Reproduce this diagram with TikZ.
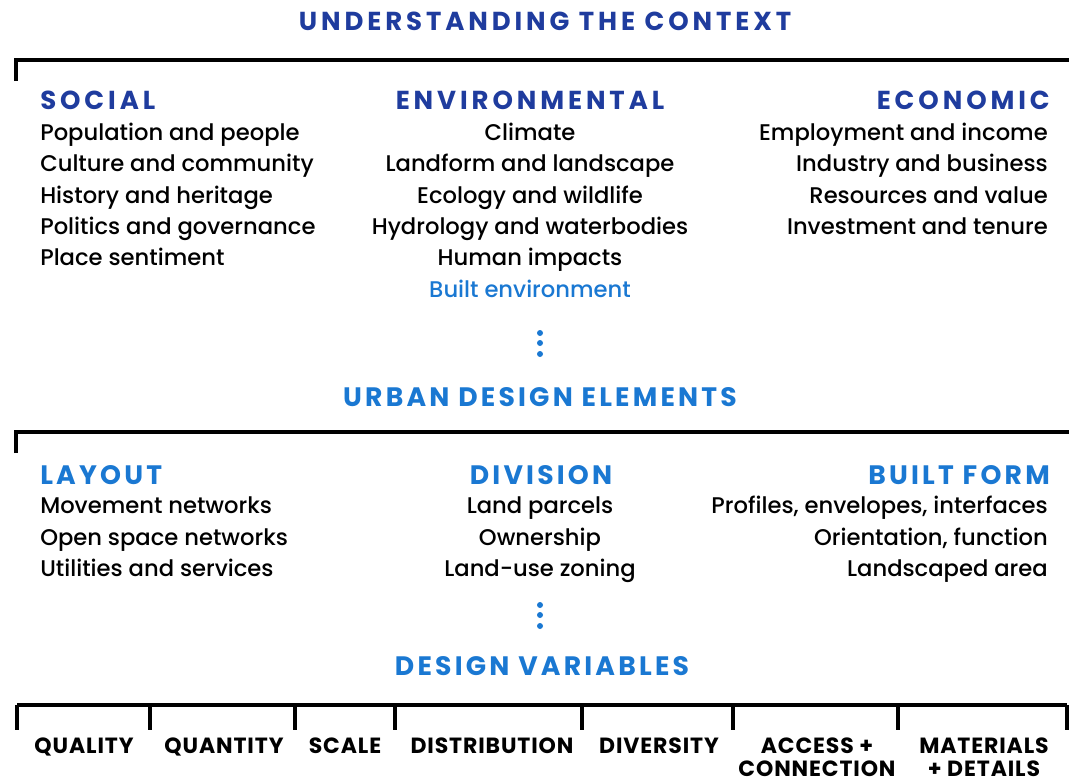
\documentclass[tikz,border=0pt]{standalone}
\usepackage{fontspec}
\setmainfont{Poppins}[UprightFont=* Medium, BoldFont=* Bold]
\newfontfamily\headcond{Poppins}[UprightFont=* Bold, LetterSpace=15]
\newfontfamily\headwide{Poppins}[UprightFont=* Bold, LetterSpace=12]
\newfontfamily\varfont{Poppins}[UprightFont=* Bold, LetterSpace=4]
\definecolor{dkblue}{HTML}{1F3C9E}
\definecolor{ltblue}{HTML}{1A78D2}
\begin{document}
\begin{tikzpicture}[x=0.75pt,y=-0.75pt,
  body/.style={inner sep=0pt,font=\fontsize{17}{20}\selectfont,text=black},
  bodyblue/.style={body,text=ltblue},
  cathead/.style={inner sep=0pt,font=\headcond\fontsize{19.5}{24}\selectfont,text=dkblue},
  cathead2/.style={inner sep=0pt,font=\headwide\fontsize{20}{24}\selectfont,text=ltblue},
  title1/.style={inner sep=0pt,font=\headcond\fontsize{19.5}{24}\selectfont,text=dkblue},
  title2/.style={inner sep=0pt,font=\headwide\fontsize{20}{24}\selectfont,text=ltblue},
  varlab/.style={inner sep=0pt,font=\varfont\fontsize{16.5}{19}\selectfont,text=black,align=center},
  bracket/.style={line width=3pt,draw=black},
  dotm/.style={circle,fill=ltblue,inner sep=0pt,minimum size=4.5pt}]
\useasboundingbox (0,0) rectangle (1069,782);
% titles
\node[title1,anchor=base] (t1) at (545,30) {UNDERSTANDING THE CONTEXT};
% top bracket
\coordinate (b1s) at (16,81);
\coordinate (b1c) at (16,60);
\coordinate (b1e) at (1069,60);
\draw[bracket] (b1s) -- (b1c) -- (b1e);
% category heads
\node[cathead,anchor=base west] (soc) at (40,109) {SOCIAL};
\node[cathead,anchor=base] (env) at (530,109) {ENVIRONMENTAL};
\node[cathead,anchor=base east] (eco) at (1050,109) {ECONOMIC};
% social
\node[body,anchor=base west] (s1) at (40,140) {Population and people};
\node[body,anchor=base west] (s2) at (40,171) {Culture and community};
\node[body,anchor=base west] (s3) at (40,203) {History and heritage};
\node[body,anchor=base west] (s4) at (40,234) {Politics and governance};
\node[body,anchor=base west] (s5) at (40,265) {Place sentiment};
% environmental
\node[body,anchor=base] (e1) at (530,140) {Climate};
\node[body,anchor=base] (e2) at (530,171) {Landform and landscape};
\node[body,anchor=base] (e3) at (530,203) {Ecology and wildlife};
\node[body,anchor=base] (e4) at (530,234) {Hydrology and waterbodies};
\node[body,anchor=base] (e5) at (530,265) {Human impacts};
\node[bodyblue,anchor=base] (e6) at (530,297) {Built environment};
% economic
\node[body,anchor=base east] (c1) at (1048,140) {Employment and income};
\node[body,anchor=base east] (c2) at (1048,171) {Industry and business};
\node[body,anchor=base east] (c3) at (1048,203) {Resources and value};
\node[body,anchor=base east] (c4) at (1048,234) {Investment and tenure};
% dots
\node[dotm] (d1) at (540,333) {};
\node[dotm] (d2) at (540,343) {};
\node[dotm] (d3) at (540,354) {};
% urban design elements
\node[title2,anchor=base] (t2) at (540,406) {URBAN DESIGN ELEMENTS};
\coordinate (b2s) at (16,453);
\coordinate (b2c) at (16,432);
\coordinate (b2e) at (1069,432);
\draw[bracket] (b2s) -- (b2c) -- (b2e);
\node[cathead2,anchor=base west] (lay) at (40,484) {LAYOUT};
\node[cathead2,anchor=base] (div) at (541,484) {DIVISION};
\node[cathead2,anchor=base east] (bf) at (1050,484) {BUILT FORM};
\node[body,anchor=base west] (l1) at (40,513) {Movement networks};
\node[body,anchor=base west] (l2) at (40,545) {Open space networks};
\node[body,anchor=base west] (l3) at (40,576) {Utilities and services};
\node[body,anchor=base] (v1) at (540,513) {Land parcels};
\node[body,anchor=base] (v2) at (540,545) {Ownership};
\node[body,anchor=base] (v3) at (540,576) {Land-use zoning};
\node[body,anchor=base east] (f1) at (1048,513) {Profiles, envelopes, interfaces};
\node[body,anchor=base east] (f2) at (1048,545) {Orientation, function};
\node[body,anchor=base east] (f3) at (1048,576) {Landscaped area};
% dots 2
\node[dotm] (g1) at (540,605) {};
\node[dotm] (g2) at (540,615) {};
\node[dotm] (g3) at (540,626) {};
% design variables
\node[title2,anchor=base] (t3) at (542,675) {DESIGN VARIABLES};
% bottom bracket
\coordinate (k0) at (17,705);
\coordinate (k7) at (1067,705);
\draw[bracket] (k0) -- (k7);
\foreach \x [count=\i] in {17,150,295,395,582,733,898,1067}
  \draw[bracket] (\x,705) -- (\x,730);
\node[varlab,anchor=base] (q1) at (84,753) {QUALITY};
\node[varlab,anchor=base] (q2) at (224,753) {QUANTITY};
\node[varlab,anchor=base] (q3) at (345,753) {SCALE};
\node[varlab,anchor=base] (q4) at (492,753) {DISTRIBUTION};
\node[varlab,anchor=base] (q5) at (659,753) {DIVERSITY};
\node[varlab,anchor=base] (q6a) at (817,753) {ACCESS +};
\node[varlab,anchor=base] (q6b) at (817,776) {CONNECTION};
\node[varlab,anchor=base] (q7a) at (984,753) {MATERIALS};
\node[varlab,anchor=base] (q7b) at (984,776) {+ DETAILS};
\end{tikzpicture}
\end{document}
